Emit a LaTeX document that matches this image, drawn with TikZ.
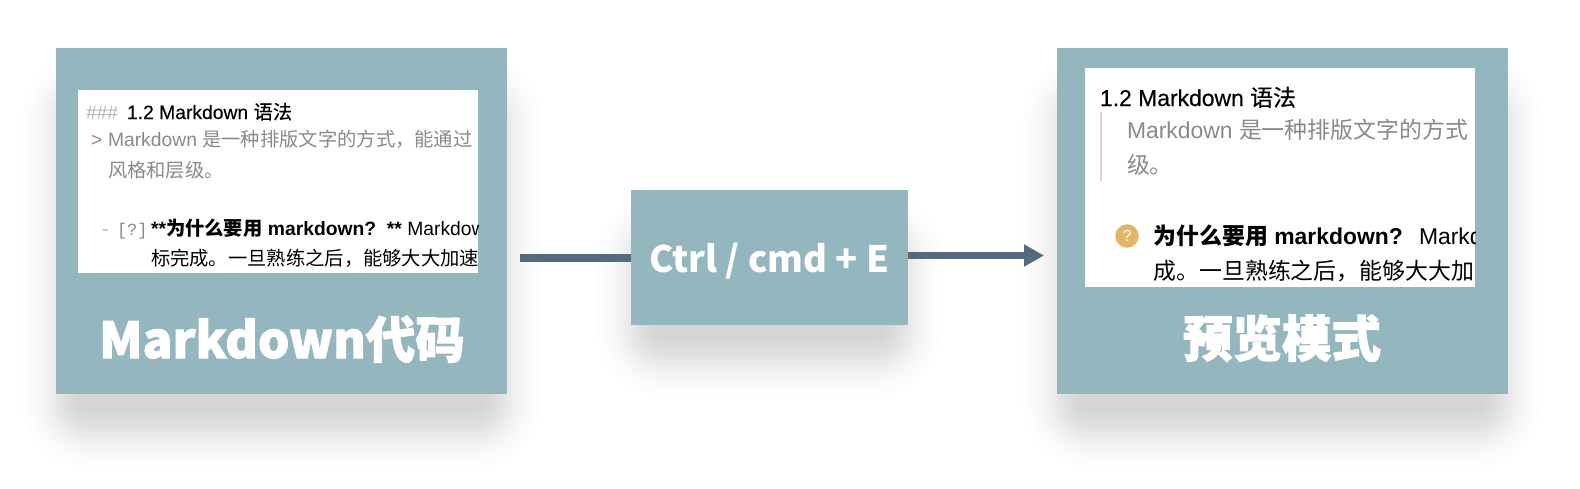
\documentclass[tikz,border=0pt]{standalone}
\usepackage{fontspec}
\setmainfont{Liberation Sans}[BoldFont={Liberation Sans Bold}]
\newfontfamily\cjk{Noto Sans CJK SC}
\newfontfamily\cjkheavy{Noto Sans CJK SC}[BoldFeatures={FakeBold=2}]
\newfontfamily\headlat{Liberation Sans}[FakeBold=0.35]
\newfontfamily\headcjk{Noto Sans CJK SC}[FakeBold=0.35]
\newfontfamily\monof{Liberation Mono}
\usetikzlibrary{arrows.meta}
\definecolor{panelteal}{HTML}{93B6BF}
\definecolor{arrowslate}{HTML}{56697D}
\definecolor{muted}{HTML}{8A8A8A}
\definecolor{marker}{HTML}{B4B4B4}
\definecolor{iconamber}{HTML}{E5B567}
\newcommand{\softshadow}[4]{%
  \foreach \d in {-34,-28,-23,-19,-16,-13,-10.5,-8,-6,-4,-2,0,2,4,6,8,10.5,13,16,19,23}{
    \pgfmathsetmacro{\rad}{max(0.1,34-\d)}
    \fill[black,opacity=0.0098,rounded corners=\rad pt]
      (#1+\d,#2+\d) rectangle (#3-\d,#4-\d);
  }}
\tikzset{
  card/.style={fill=panelteal,draw=none,inner sep=0,anchor=north west},
  sheet/.style={fill=white,draw=none,inner sep=0,anchor=north west},
  txt/.style={anchor=base west,inner sep=0,outer sep=0,text=black},
  small/.style={txt,font=\fontsize{19.3}{19.3}\selectfont},
  big/.style={txt,font=\fontsize{22.9}{22.9}\selectfont},
  title/.style={anchor=base,inner sep=0,outer sep=0,text=white,font=\cjkheavy\bfseries\fontsize{49.5}{49.5}\selectfont},
  link/.style={draw=arrowslate,line width=7.5pt}
}
\begin{document}
\begin{tikzpicture}[x=1pt,y=-1pt]
\useasboundingbox (0,0) rectangle (1580,488);
\softshadow{56}{88}{507}{434}
\softshadow{631}{227}{908}{362}
\softshadow{1057}{88}{1508}{434}
\node[card,minimum width=451pt,minimum height=346pt] (left) at (56,48) {};
\node[card,minimum width=451pt,minimum height=346pt] (right) at (1057,48) {};
\node[card,minimum width=277pt,minimum height=135pt] (ctrl) at (631,190) {};
\coordinate (from) at (520,258);
\coordinate (to) at (1044,255.5);
\draw[link] (from) -- (from -| ctrl.west);
\draw[link,-{Triangle[length=20pt,width=21pt]}] (ctrl.east |- to) -- (to);
\node[anchor=base,inner sep=0,text=white,font=\cjk\bfseries\fontsize{36.4}{36.4}\selectfont] (ctrltext) at (769.5,272) {Ctrl / cmd + E};
\node[title] (ltitle) at (282,358) {Markdown代码};
\node[title] (rtitle) at (1282,357) {预览模式};
% left sheet
\node[sheet,minimum width=400pt,minimum height=183pt] (lsheet) at (78,90) {};
\begin{scope}
\clip (lsheet.north west) rectangle (lsheet.south east);
\node[small,text=marker] (l1a) at (86,119) {\#\#\#};
\node[small] (l1b) at (127,119) {{\headlat 1.2 Markdown} {\headcjk 语法}};
\node[small,text=muted] (l2a) at (91,146) {>};
\node[small,text=muted] (l2b) at (108,146) {Markdown {\cjk 是一种排版文字的方式，能通过}};
\node[small,text=muted] (l3) at (108,177) {\cjk 风格和层级。};
\node[small,text=marker] (l4a) at (102,235) {-};
\node[small,text=muted,font=\monof\fontsize{17}{17}\selectfont] (l4b) at (117,235) {[?]};
\node[small] (l4c) at (151,235) {\textbf{**{\cjk 为什么要用} markdown?\ \ **} Markdown};
\node[small] (l5) at (151,265) {\cjk 标完成。一旦熟练之后，能够大大加速};
\end{scope}
% right sheet
\node[sheet,minimum width=390pt,minimum height=219pt] (rsheet) at (1085,68) {};
\begin{scope}
\clip (rsheet.north west) rectangle (rsheet.south east);
\node[big] (r1) at (1100,106) {{\headlat 1.2 Markdown} {\headcjk 语法}};
\draw[draw=black!16,line width=2pt] (1101,112) coordinate (qa) -- (1101,181) coordinate (qb);
\node[big,text=muted] (r2) at (1127,138) {Markdown {\cjk 是一种排版文字的方式}};
\node[big,text=muted] (r3) at (1127,173) {\cjk 级。};
\node[circle,fill=iconamber,minimum size=23.5pt,inner sep=0,text=white,font=\fontsize{16}{16}\selectfont] (icon) at (1127,236) {?};
\node[big] (r4a) at (1153.5,244) {\textbf{{\cjk 为什么要用} markdown?}};
\node[big] (r4b) at (1419,244) {Markdown};
\node[big] (r5) at (1153.5,279) {\cjk 成。一旦熟练之后，能够大大加};
\end{scope}
\end{tikzpicture}
\end{document}
